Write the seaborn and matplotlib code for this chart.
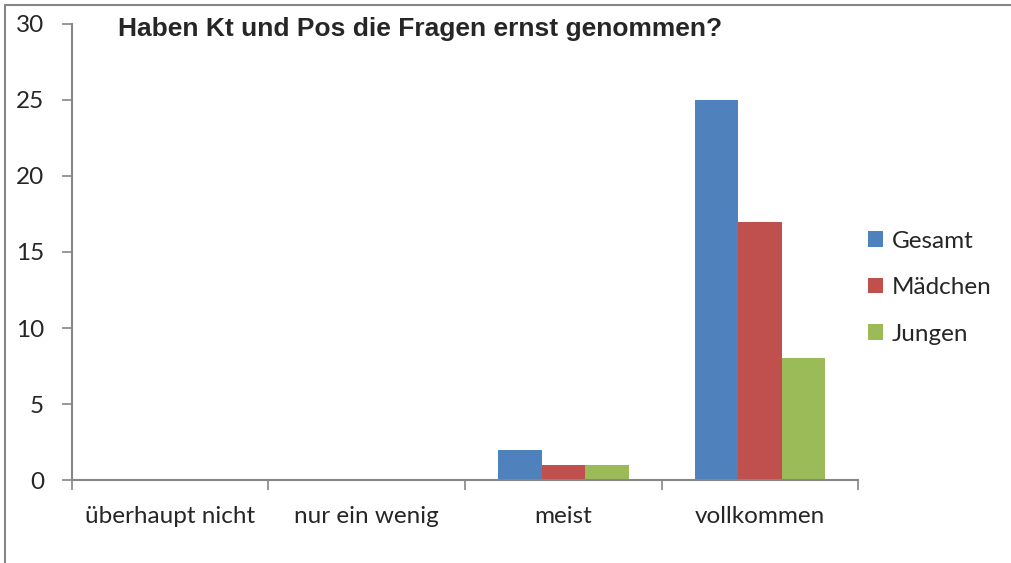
import matplotlib.pyplot as plt
import matplotlib.lines as mlines
import pandas as pd
import seaborn as sns

categories = ['überhaupt nicht', 'nur ein wenig', 'meist', 'vollkommen']
series = ['Gesamt', 'Mädchen', 'Jungen']
gesamt = [0, 0, 2, 25]
maedchen = [0, 0, 1, 17]
jungen = [0, 0, 1, 8]
colors = ['#4F81BD', '#C0504D', '#9BBB59']

df = pd.DataFrame({
    'antwort': categories * 3,
    'gruppe': [s for s in series for _ in categories],
    'anzahl': gesamt + maedchen + jungen,
})

sns.set_style('white')
plt.rcParams['font.family'] = ['Lato', 'DejaVu Sans']

fig = plt.figure(figsize=(10.11, 5.63), dpi=100)
ax = fig.add_axes([0.0712, 0.1474, 0.7775, 0.810])

sns.barplot(data=df, x='antwort', y='anzahl', hue='gruppe', order=categories,
            hue_order=series, palette=colors, width=0.664, saturation=1,
            edgecolor='none', ax=ax)

ax.set_xlim(-0.5, 3.5)
ax.set_ylim(0, 30)
ax.set_yticks(range(0, 31, 5))
ax.tick_params(axis='y', labelsize=17.5, length=7, width=1.2, color='#868686',
               left=True, pad=13)
# category boundaries as ticks, labels in between
ax.set_xticks([-0.5, 0.5, 1.5, 2.5, 3.5])
ax.set_xticklabels([])
ax.tick_params(axis='x', which='major', length=7, width=1.2, color='#868686', bottom=True)
ax.set_xticks(range(4), minor=True)
ax.set_xticklabels(categories, minor=True)
ax.tick_params(axis='x', which='minor', length=0, labelsize=17.5, pad=19)
ax.set_xlabel('')
ax.set_ylabel('')

for side in ['top', 'right']:
    ax.spines[side].set_visible(False)
for side in ['left', 'bottom']:
    ax.spines[side].set_color('#868686')
    ax.spines[side].set_linewidth(1.5)

ax.text(0.058, 0.99, 'Haben Kt und Pos die Fragen ernst genommen?',
        transform=ax.transAxes, ha='left', va='center', fontsize=19,
        fontweight='bold', family=['Liberation Sans', 'DejaVu Sans'])

leg = ax.legend(loc='center left', bbox_to_anchor=(0.985, 0.422), frameon=False,
                fontsize=17.5, handlelength=0.62, handleheight=0.62,
                handletextpad=0.35, labelspacing=1.05)

# outer chart border (only top and left visible)
fig.add_artist(mlines.Line2D([0.005, 0.005], [0.0, 0.991], color='#868686',
                             linewidth=1.5, transform=fig.transFigure))
fig.add_artist(mlines.Line2D([0.005, 1.0], [0.991, 0.991], color='#868686',
                             linewidth=1.5, transform=fig.transFigure))

fig.savefig('out.png', dpi=100)
